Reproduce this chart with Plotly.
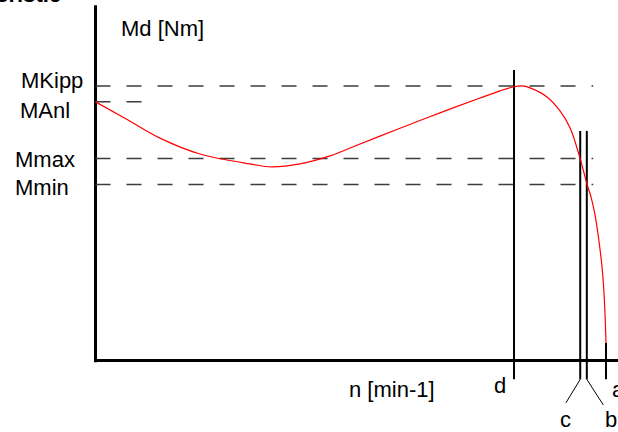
import plotly.graph_objects as go

# ---- data (speed n in arbitrary units, torque Md in % of breakdown torque) ----
n_curve = [0, 63.7, 126.3, 204.7, 302.6, 345.7, 400.6, 459.4, 498.5, 596.5, 674.8,
           753.2, 792.4, 817.8, 835.4, 851.1, 884.4, 909.9, 929.5, 949.1, 962.8,
           970.6, 978.5, 984.3, 988.2, 992.2, 995.1, 998.0, 1000]
M_curve = [94.2, 87.6, 81.0, 75.2, 71.6, 70.5, 71.6, 74.5, 77.4, 84.6, 90.2,
           95.6, 98.2, 99.6, 100.0, 99.3, 96.0, 90.9, 84.8, 73.7, 64.2,
           59.6, 53.0, 46.1, 40.6, 34.1, 27.5, 17.3, 6.4]

level_names = ["MKipp", "MAnl", "Mmax", "Mmin"]
level_values = [100.0, 94.2, 73.6, 64.1]
level_ends = [975, 103, 975, 975]

speed_names = ["d", "c", "b", "a"]
speed_values = [819.8, 949.5, 962.4, 1000.0]

x_label = "n [min-1]"
y_label = "Md [Nm]"
title_text = "Torque characteristic"

# axis extents
n_axis_end = 1030
M_axis_top = 129.4

fig = go.Figure()

# axes drawn as lines
fig.add_trace(go.Scatter(x=[0, 0], y=[-0.6, M_axis_top], mode="lines",
                         line=dict(color="black", width=3), hoverinfo="skip"))
fig.add_trace(go.Scatter(x=[-0.5, n_axis_end], y=[0, 0], mode="lines",
                         line=dict(color="black", width=3), hoverinfo="skip"))

# dashed torque levels
for val, end in zip(level_values, level_ends):
    fig.add_trace(go.Scatter(x=[0, end], y=[val, val], mode="lines",
                             line=dict(color="rgb(60,60,60)", width=1.5, dash="15px,16px"),
                             hoverinfo="skip"))

# vertical speed markers
d_top, cb_top, bottom = 105.8, 83.6, -6.85
a_top = M_curve[-1]
fig.add_trace(go.Scatter(x=[speed_values[0]] * 2, y=[bottom, d_top], mode="lines",
                         line=dict(color="black", width=2), hoverinfo="skip"))
fig.add_trace(go.Scatter(x=[speed_values[1]] * 2, y=[bottom, cb_top], mode="lines",
                         line=dict(color="black", width=2), hoverinfo="skip"))
fig.add_trace(go.Scatter(x=[speed_values[2]] * 2, y=[bottom, cb_top], mode="lines",
                         line=dict(color="black", width=2), hoverinfo="skip"))
fig.add_trace(go.Scatter(x=[speed_values[3]] * 2, y=[bottom, a_top], mode="lines",
                         line=dict(color="black", width=2), hoverinfo="skip"))
# leader lines for c and b
fig.add_trace(go.Scatter(x=[speed_values[1], 921.6], y=[bottom, -15.4], mode="lines",
                         line=dict(color="black", width=1), hoverinfo="skip"))
fig.add_trace(go.Scatter(x=[speed_values[2], 994.7], y=[bottom, -16.2], mode="lines",
                         line=dict(color="black", width=1), hoverinfo="skip"))

# torque-speed curve
fig.add_trace(go.Scatter(x=n_curve, y=M_curve, mode="lines",
                         line=dict(color="red", width=1.2, shape="spline", smoothing=1.0),
                         hoverinfo="skip"))

font = dict(family="Liberation Sans, Arial, sans-serif", size=22, color="black")
ann = []
level_label_pos = [(-149.9, 101.8), (-151.8, 90.9), (-161.6, 73.2), (-161.6, 63.0)]
for name, (x, y) in zip(level_names, level_label_pos):
    ann.append(dict(x=x, y=y, text=name, xanchor="left", yanchor="middle"))
ann.append(dict(x=46, y=121.0, text=y_label, xanchor="left", yanchor="middle"))
ann.append(dict(x=492.7, y=-10.4, text=x_label, xanchor="left", yanchor="middle"))
speed_label_pos = [(792, -9.1, "center"), (920.7, -21.6, "center"),
                   (1009.8, -21.6, "center"), (1007.8, -10.4, "left")]
for name, (x, y, xa) in zip(speed_names, speed_label_pos):
    ann.append(dict(x=x, y=y, text=name, xanchor=xa, yanchor="middle"))
for a in ann:
    a.update(xref="x", yref="y", showarrow=False, font=font)
ann.append(dict(x=63 / 618, y=1.0 + 5 / 432, xref="paper", yref="paper",
                text="<b>" + title_text + "</b>", showarrow=False, xanchor="right",
                yanchor="middle", font=font))

fig.update_layout(
    width=618, height=432, autosize=False,
    margin=dict(l=0, r=0, t=0, b=0, pad=0),
    paper_bgcolor="white", plot_bgcolor="white",
    showlegend=False,
    annotations=ann,
    xaxis=dict(range=[-187.1, 1023.5], visible=False, fixedrange=True),
    yaxis=dict(range=[-26.05, 131.3], visible=False, fixedrange=True),
)

fig.write_html("out.html", config={"displayModeBar": False},
               post_script="document.body.style.margin='0';")
